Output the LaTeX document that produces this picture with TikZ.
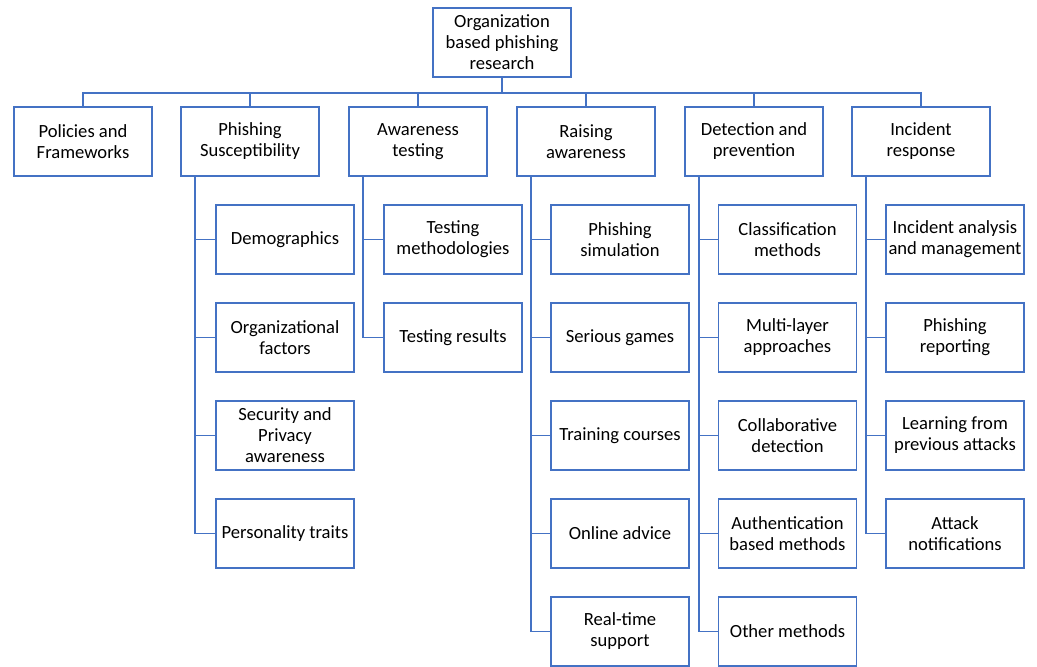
\documentclass[tikz,border=0pt]{standalone}
\usepackage{fontspec}
\setmainfont{Carlito}
\usepackage{xcolor}
\usetikzlibrary{positioning}
\definecolor{boxBlue}{HTML}{4472C4}
\begin{document}
\begin{tikzpicture}[x=1pt,y=-1pt]
        \tikzstyle{every node}=[font=\fontsize{18.6}{21}\selectfont]
        \tikzset{box/.style = {shape=rectangle,draw=boxBlue,line width=1.8pt,fill=white,
            minimum width=138pt,minimum height=69pt,inner sep=0pt,align=center}}
        \tikzset{link/.style = {draw=boxBlue,line width=1.8pt}}
        \useasboundingbox (0,0) rectangle (1037,667);
        % root
        \node[box] (root) at (502,42.5) {Organization\\based phishing\\research};
        % first level
        \node[box] (pf) at (83,141.5) {Policies and\\Frameworks};
        \node[box] (ps) at (250,141.5) {Phishing\\Susceptibility};
        \node[box] (at) at (418,141.5) {Awareness\\testing};
        \node[box] (ra) at (586,141.5) {Raising\\awareness};
        \node[box] (dp) at (754,141.5) {Detection and\\prevention};
        \node[box] (ir) at (921,141.5) {Incident\\response};
        % phishing susceptibility
        \node[box] (ps1) at (285,239.5) {Demographics};
        \node[box] (ps2) at (285,337.5) {Organizational\\factors};
        \node[box] (ps3) at (285,435.5) {Security and\\Privacy\\awareness};
        \node[box] (ps4) at (285,533.5) {Personality traits};
        % awareness testing
        \node[box] (at1) at (453,239.5) {Testing\\methodologies};
        \node[box] (at2) at (453,337.5) {Testing results};
        % raising awareness
        \node[box] (ra1) at (620,239.5) {Phishing\\simulation};
        \node[box] (ra2) at (620,337.5) {Serious games};
        \node[box] (ra3) at (620,435.5) {Training courses};
        \node[box] (ra4) at (620,533.5) {Online advice};
        \node[box] (ra5) at (620,631.5) {Real-time\\support};
        % detection and prevention
        \node[box] (dp1) at (787.5,239.5) {Classification\\methods};
        \node[box] (dp2) at (787.5,337.5) {Multi-layer\\approaches};
        \node[box] (dp3) at (787.5,435.5) {Collaborative\\detection};
        \node[box] (dp4) at (787.5,533.5) {Authentication\\based methods};
        \node[box] (dp5) at (787.5,631.5) {Other methods};
        % incident response
        \node[box] (ir1) at (955,239.5) {Incident analysis\\and management};
        \node[box] (ir2) at (955,337.5) {Phishing\\reporting};
        \node[box] (ir3) at (955,435.5) {Learning from\\previous attacks};
        \node[box] (ir4) at (955,533.5) {Attack\\notifications};
        % root edges
        \foreach \c in {pf,ps,at,ra,dp,ir}
          \draw[link] (root.south) -- ++(0,15) -| (\c.north);
        % child edges
        \foreach \p/\n in {ps/4,at/2,ra/5,dp/5,ir/4}
          \foreach \k in {1,...,\n}
            \draw[link] ([xshift=15pt]\p.south west) |- (\p\k.west);
\end{tikzpicture}
\end{document}
